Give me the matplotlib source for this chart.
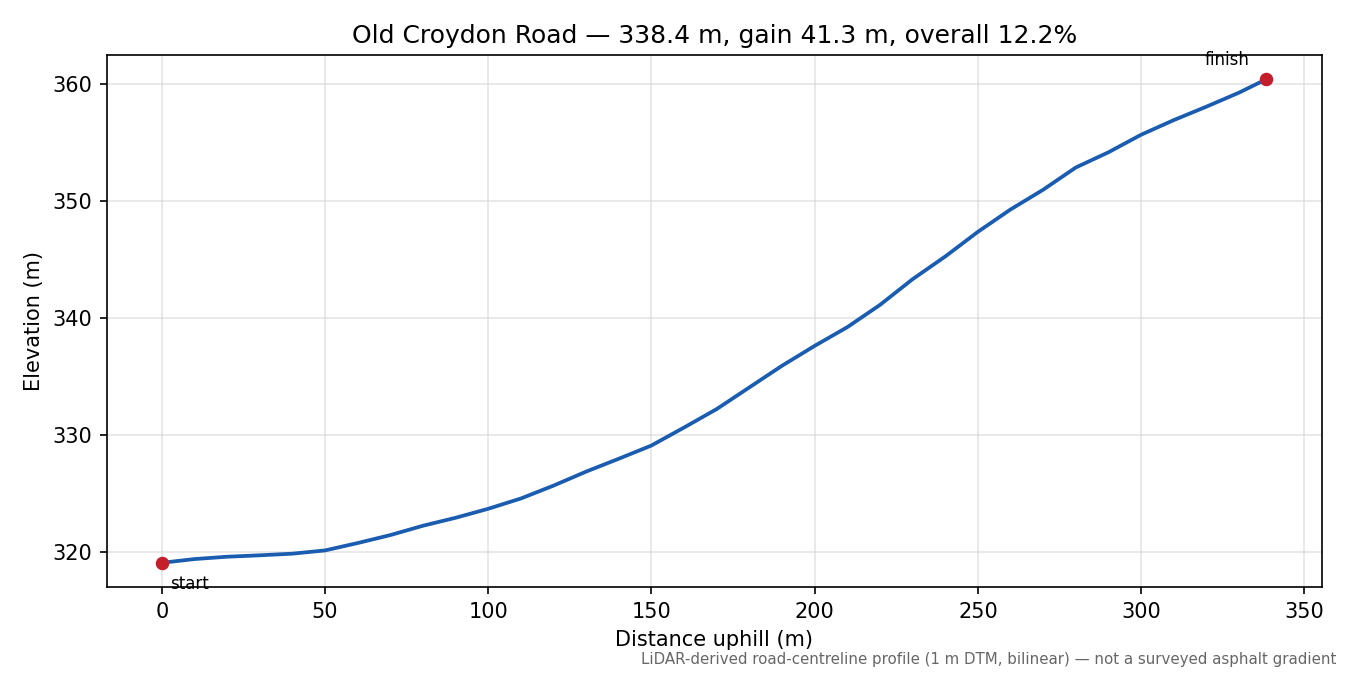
import matplotlib
matplotlib.use("Agg")
import matplotlib.pyplot as plt

distance = [0, 10, 20, 30, 40, 50, 60, 70, 80, 90, 100, 110, 120, 130, 140, 150,
            160, 170, 180, 190, 200, 210, 220, 230, 240, 250, 260, 270, 280, 290,
            300, 310, 320, 330, 338.4]
elevation = [319.05, 319.37, 319.57, 319.69, 319.83, 320.11, 320.74, 321.42, 322.22,
             322.90, 323.67, 324.55, 325.65, 326.85, 327.95, 329.08, 330.62, 332.2,
             334.05, 335.9, 337.6, 339.2, 341.1, 343.3, 345.24, 347.35, 349.26,
             350.95, 352.85, 354.15, 355.65, 356.9, 358.05, 359.25, 360.4]

title = "Old Croydon Road \u2014 338.4 m, gain 41.3 m, overall 12.2%"
footnote = "LiDAR-derived road-centreline profile (1 m DTM, bilinear) \u2014 not a surveyed asphalt gradient"

fig = plt.figure(figsize=(9, 4.5), dpi=150)
ax = fig.add_axes([0.079, 0.1304, 0.9, 0.7881])

line_color = "#1a5cb0"
dot_color = "#c41e2a"

ax.plot(distance, elevation, color=line_color, lw=1.8, zorder=3)
ax.scatter([distance[0], distance[-1]], [elevation[0], elevation[-1]],
           color=dot_color, s=30, zorder=4)
ax.annotate("start", (distance[0], elevation[0]), xytext=(4, -6),
            textcoords="offset points", ha="left", va="top", fontsize=8)
ax.annotate("finish", (distance[-1], elevation[-1]), xytext=(-8, 5),
            textcoords="offset points", ha="right", va="bottom", fontsize=8)

ax.grid(True, color="#d0d0d0", alpha=0.55, lw=0.8)
ax.set_axisbelow(True)
ax.set_xlabel("Distance uphill (m)", fontsize=10)
ax.set_ylabel("Elevation (m)", fontsize=10)
ax.set_title(title, fontsize=12)
ax.tick_params(labelsize=10)

fig.text(0.99, 0.012, footnote, ha="right", va="bottom", fontsize=7.2, color="#666666")

fig.savefig("out.png", dpi=150)
